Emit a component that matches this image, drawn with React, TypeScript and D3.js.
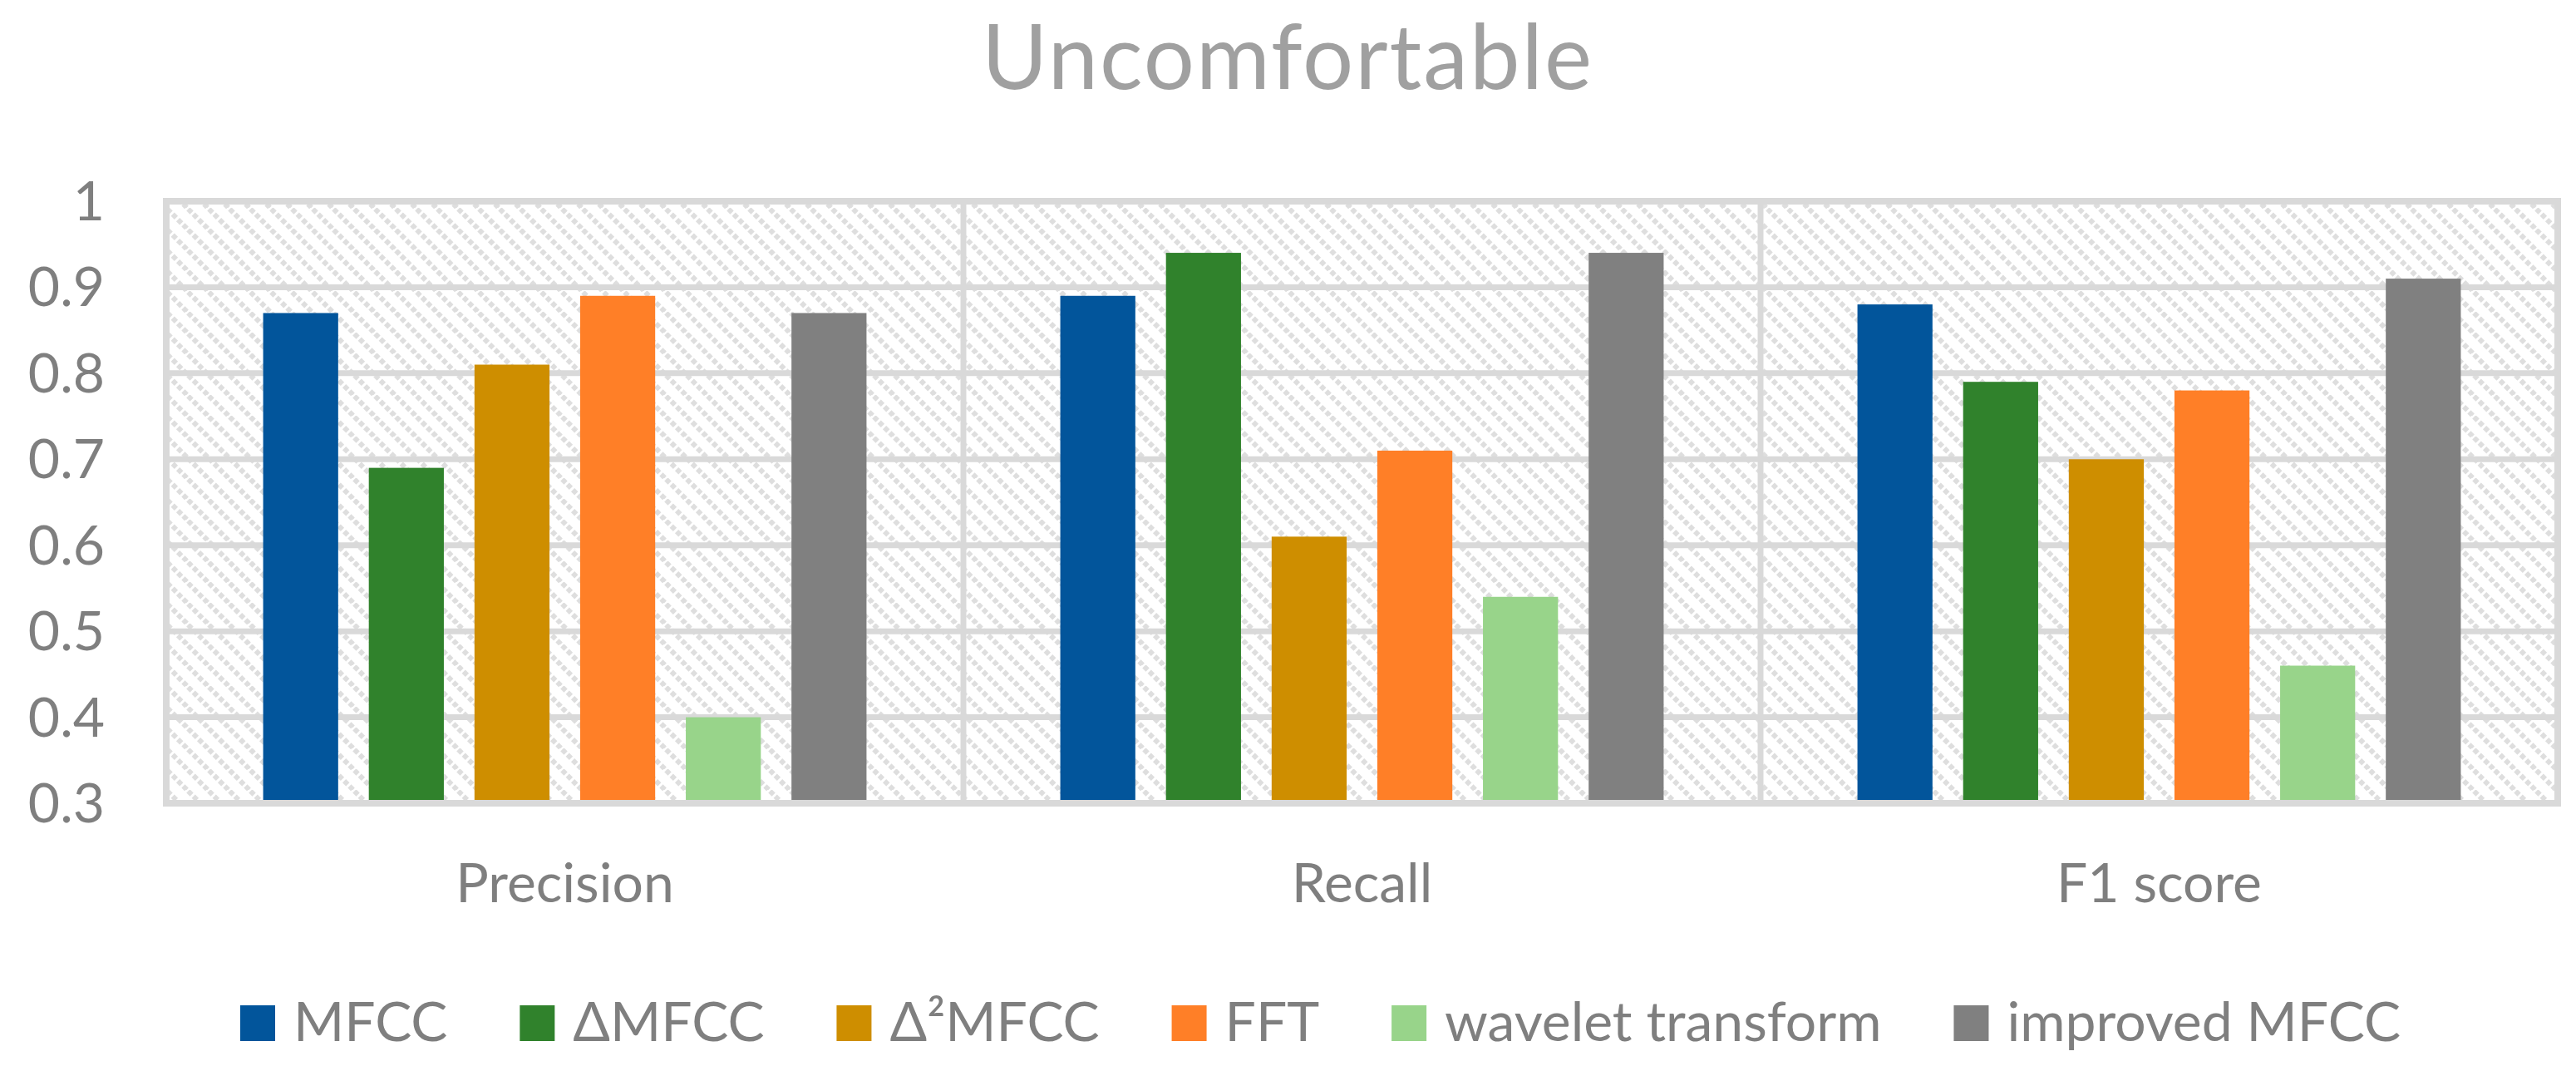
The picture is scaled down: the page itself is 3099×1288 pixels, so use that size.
import React, { useEffect, useRef } from "react";
import * as d3 from "d3";

const categories = ["Precision", "Recall", "F1 score"];
const seriesNames = ["MFCC", "ΔMFCC", "Δ²MFCC", "FFT", "wavelet transform", "improved MFCC"];
const seriesColors = ["#02559B", "#30822C", "#CE8E00", "#FF7F27", "#98D48A", "#808080"];
const mfcc = [0.87, 0.89, 0.88];
const deltaMfcc = [0.69, 0.94, 0.79];
const delta2Mfcc = [0.81, 0.61, 0.70];
const fft = [0.89, 0.71, 0.78];
const wavelet = [0.40, 0.54, 0.46];
const improvedMfcc = [0.87, 0.94, 0.91];
const seriesValues = [mfcc, deltaMfcc, delta2Mfcc, fft, wavelet, improvedMfcc];
const yTicks = [0.3, 0.4, 0.5, 0.6, 0.7, 0.8, 0.9, 1];
const titleText = "Uncomfortable";

const W = 3099;
const H = 1288;
const FONT = "Lato, 'Open Sans', sans-serif";

export default function App() {
  const ref = useRef<SVGSVGElement | null>(null);

  useEffect(() => {
    const svg = d3.select(ref.current);
    svg.selectAll("*").remove();

    const plot = { left: 200, right: 3077, top: 242, bottom: 966 };

    const defs = svg.append("defs");
    const pat = defs
      .append("pattern")
      .attr("id", "hatch")
      .attr("patternUnits", "userSpaceOnUse")
      .attr("width", 25)
      .attr("height", 25);
    pat.append("rect").attr("width", 25).attr("height", 25).attr("fill", "#ffffff");
    [-25, 0, 25].forEach((o) => {
      pat
        .append("line")
        .attr("x1", o - 5)
        .attr("y1", -5)
        .attr("x2", o + 30)
        .attr("y2", 30)
        .attr("stroke", "#DEDEDE")
        .attr("stroke-width", 6)
        .attr("stroke-dasharray", "6 3");
    });

    const x = d3.scaleBand<string>().domain(categories).range([plot.left, plot.right]).padding(0);
    const inner = d3
      .scaleBand<string>()
      .domain(seriesNames)
      .range([0, x.bandwidth()])
      .paddingInner(0.29)
      .paddingOuter(0.917);
    const y = d3.scaleLinear().domain([0.3, 1]).range([plot.bottom, plot.top]);

    svg
      .append("rect")
      .attr("x", plot.left)
      .attr("y", plot.top)
      .attr("width", plot.right - plot.left)
      .attr("height", plot.bottom - plot.top)
      .attr("fill", "url(#hatch)");

    svg
      .append("g")
      .selectAll("line")
      .data(yTicks.slice(1, -1))
      .join("line")
      .attr("x1", plot.left)
      .attr("x2", plot.right)
      .attr("y1", (d) => y(d))
      .attr("y2", (d) => y(d))
      .attr("stroke", "#D9D9D9")
      .attr("stroke-width", 7);

    svg
      .append("g")
      .selectAll("line")
      .data(categories.slice(1))
      .join("line")
      .attr("x1", (d) => x(d)!)
      .attr("x2", (d) => x(d)!)
      .attr("y1", plot.top)
      .attr("y2", plot.bottom)
      .attr("stroke", "#D9D9D9")
      .attr("stroke-width", 7);

    svg
      .append("rect")
      .attr("x", plot.left)
      .attr("y", plot.top)
      .attr("width", plot.right - plot.left)
      .attr("height", plot.bottom - plot.top)
      .attr("fill", "none")
      .attr("stroke", "#D9D9D9")
      .attr("stroke-width", 8);

    const barData: { cat: string; s: string; v: number; c: string }[] = [];
    categories.forEach((cat, ci) => {
      seriesNames.forEach((s, si) => {
        barData.push({ cat, s, v: seriesValues[si][ci], c: seriesColors[si] });
      });
    });
    svg
      .append("g")
      .selectAll("rect")
      .data(barData)
      .join("rect")
      .attr("x", (d) => x(d.cat)! + inner(d.s)!)
      .attr("width", inner.bandwidth())
      .attr("y", (d) => y(d.v))
      .attr("height", (d) => y(0.3) - y(d.v) - 4)
      .attr("fill", (d) => d.c);

    svg
      .append("g")
      .selectAll("text")
      .data(yTicks)
      .join("text")
      .attr("x", 126)
      .attr("y", (d) => y(d) + 23)
      .attr("text-anchor", "end")
      .attr("font-family", FONT)
      .attr("font-size", 66)
      .attr("fill", "#7F7F7F")
      .text((d) => (d === 1 ? "1" : d.toFixed(1)));

    svg
      .append("g")
      .selectAll("text")
      .data(categories)
      .join("text")
      .attr("x", (d) => x(d)! + x.bandwidth() / 2)
      .attr("y", 1085)
      .attr("text-anchor", "middle")
      .attr("font-family", FONT)
      .attr("font-size", 66)
      .attr("fill", "#7F7F7F")
      .text((d) => d);

    svg
      .append("text")
      .attr("x", 1549)
      .attr("y", 107)
      .attr("text-anchor", "middle")
      .attr("font-family", FONT)
      .attr("font-size", 108)
      .attr("letter-spacing", 2)
      .attr("fill", "#A0A0A0")
      .text(titleText);

    const legend = svg.append("g");
    const items = seriesNames.map((s, i) => {
      const g = legend.append("g");
      g.append("rect").attr("x", 0).attr("y", -43).attr("width", 42).attr("height", 43).attr("fill", seriesColors[i]);
      const t = g
        .append("text")
        .attr("x", 64)
        .attr("y", 0)
        .attr("font-family", FONT)
        .attr("font-size", 66)
        .attr("fill", "#7F7F7F")
        .text(s);
      const w = 64 + (t.node() as SVGTextElement).getComputedTextLength();
      return { g, w };
    });
    const legendLeft = 289;
    const legendRight = 2888;
    const totalItems = d3.sum(items, (d) => d.w);
    const gap = (legendRight - legendLeft - totalItems) / (items.length - 1);
    let cx = legendLeft;
    items.forEach((it) => {
      it.g.attr("transform", `translate(${cx},1252)`);
      cx += it.w + gap;
    });
  }, []);

  return (
    <svg
      ref={ref}
      width={W}
      height={H}
      viewBox={`0 0 ${W} ${H}`}
      style={{ position: "absolute", left: 0, top: 0, background: "#ffffff" }}
    />
  );
}
